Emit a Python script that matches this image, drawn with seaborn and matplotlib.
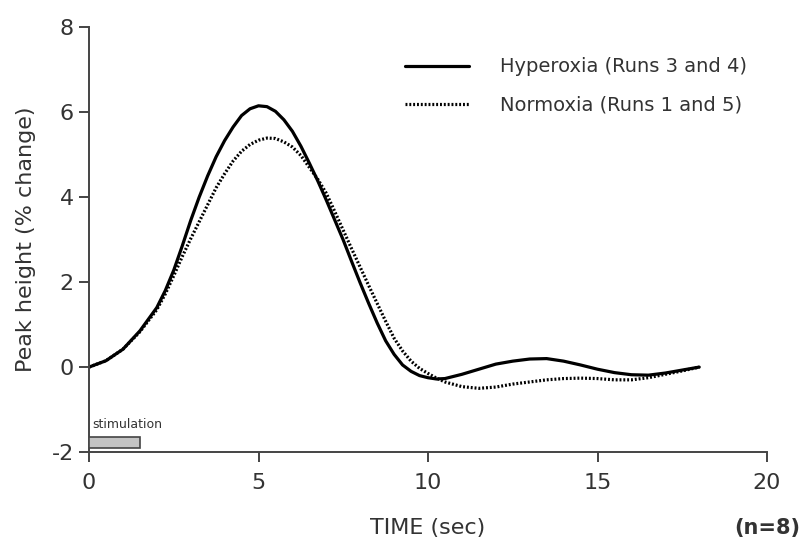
import numpy as np
import pandas as pd
import seaborn as sns
import matplotlib
matplotlib.use("Agg")
import matplotlib.pyplot as plt
from matplotlib.patches import Rectangle

time_sec = [0.0, 0.5, 1.0, 1.5, 2.0, 2.25, 2.5, 2.75, 3.0, 3.25, 3.5, 3.75, 4.0,
            4.25, 4.5, 4.75, 5.0, 5.25, 5.5, 5.75, 6.0, 6.25, 6.5, 6.75, 7.0,
            7.25, 7.5, 7.75, 8.0, 8.25, 8.5, 8.75, 9.0, 9.25, 9.5, 9.75, 10.0,
            10.25, 10.5, 11.0, 11.5, 12.0, 12.5, 13.0, 13.5, 14.0, 14.5, 15.0,
            15.5, 16.0, 16.5, 17.0, 17.5, 18.0]
hyperoxia = [0.0, 0.15, 0.42, 0.85, 1.4, 1.8, 2.28, 2.85, 3.45, 4.0, 4.5, 4.95,
             5.33, 5.65, 5.92, 6.08, 6.15, 6.13, 6.02, 5.82, 5.55, 5.2, 4.8,
             4.38, 3.93, 3.46, 2.99, 2.48, 1.98, 1.5, 1.04, 0.62, 0.3, 0.05,
             -0.1, -0.2, -0.25, -0.28, -0.27, -0.17, -0.05, 0.07, 0.14, 0.19,
             0.2, 0.14, 0.05, -0.05, -0.13, -0.18, -0.19, -0.14, -0.07, 0.0]
normoxia = [0.0, 0.15, 0.42, 0.83, 1.35, 1.72, 2.15, 2.6, 3.02, 3.42, 3.82, 4.22,
            4.55, 4.85, 5.08, 5.24, 5.34, 5.39, 5.38, 5.3, 5.18, 4.98, 4.7,
            4.42, 4.09, 3.66, 3.22, 2.78, 2.35, 1.92, 1.5, 1.08, 0.68, 0.38,
            0.14, -0.03, -0.15, -0.26, -0.35, -0.46, -0.5, -0.47, -0.4, -0.35,
            -0.3, -0.27, -0.26, -0.27, -0.3, -0.3, -0.25, -0.17, -0.09, 0.0]
series_names = ["Hyperoxia (Runs 3 and 4)", "Normoxia (Runs 1 and 5)"]
stim_start, stim_end = 0.0, 1.5
stim_low, stim_high = -1.9, -1.65
x_ticks = [0, 5, 10, 15, 20]
y_ticks = [-2, 0, 2, 4, 6, 8]

df = pd.DataFrame({
    "time": time_sec * 2,
    "value": hyperoxia + normoxia,
    "series": [series_names[0]] * len(time_sec) + [series_names[1]] * len(time_sec),
})

sns.set_theme(style="ticks")
plt.rcParams["font.family"] = ["DejaVu Sans"]
plt.rcParams["axes.unicode_minus"] = False
txt = "#333333"

fig = plt.figure(figsize=(8.12, 5.44), dpi=100)
ax = fig.add_axes([0.1096, 0.169, 0.835, 0.781])

sns.lineplot(data=df, x="time", y="value", hue="series", style="series",
             palette={series_names[0]: "black", series_names[1]: "black"},
             dashes={series_names[0]: "", series_names[1]: (0.6, 0.6)},
             linewidth=2.3, ax=ax, legend=True)
for ln in ax.get_lines():
    ln.set_solid_joinstyle("round")
    ln.set_dash_joinstyle("round")

ax.add_patch(Rectangle((stim_start, stim_low), stim_end - stim_start, stim_high - stim_low,
                       facecolor="#c4c4c4", edgecolor="#444444", linewidth=1.2, zorder=3))
ax.text(0.1, -1.35, "stimulation", fontsize=9, color=txt, ha="left", va="center")

ax.set_xlim(0, 20)
ax.set_ylim(-2, 8)
ax.set_xticks(x_ticks)
ax.set_yticks(y_ticks)
ax.tick_params(direction="out", length=7, width=1.4, colors="#444444",
               labelsize=16, labelcolor=txt)
ax.tick_params(axis="x", pad=8)
ax.tick_params(axis="y", pad=4)
for s in ["top", "right"]:
    ax.spines[s].set_visible(False)
for s in ["left", "bottom"]:
    ax.spines[s].set_linewidth(1.4)
    ax.spines[s].set_color("#444444")

ax.set_xlabel("TIME (sec)", fontsize=16, color=txt, labelpad=18)
ax.set_ylabel("Peak height (% change)", fontsize=16, color=txt, labelpad=11)

leg = ax.legend(loc="upper right", bbox_to_anchor=(0.997, 0.97), frameon=False,
                fontsize=14, handlelength=3.3, handletextpad=1.6, labelspacing=1.0,
                labelcolor=txt)
for line in leg.get_lines():
    line.set_linewidth(2.3)

fig.text(0.985, 0.03, "(n=8)", fontsize=15, fontweight="bold", color=txt,
         ha="right", va="center")

fig.savefig("out.png", dpi=100, facecolor="white")
